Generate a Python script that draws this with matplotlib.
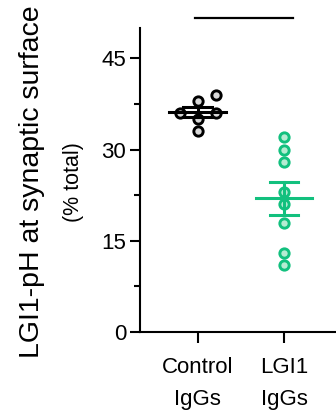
import numpy as np
import matplotlib
matplotlib.use("Agg")
import matplotlib.pyplot as plt

plt.rcParams['font.family'] = ['Liberation Sans', 'DejaVu Sans']

# datos
grupos = ["Control\nIgGs", "LGI1\nIgGs"]
control = [39, 38, 36, 36, 35, 33]
control_jitter = [0.21, 0.0, -0.21, 0.21, 0.0, 0.0]
lgi1 = [32, 30, 28, 23, 21, 18, 13, 11]
lgi1_jitter = [0, 0, 0, 0, 0, 0, 0, 0]

colores_borde = ["black", "#12c07e"]
colores_relleno = ["#d9d9d9", "#b5ecd2"]

fig = plt.figure(figsize=(3.36, 4.2), dpi=100)
ax = fig.add_axes([140/336, 1 - 332/420, 1 - 140/336, (332 - 28)/420])

for i, (vals, jit) in enumerate([(control, control_jitter), (lgi1, lgi1_jitter)]):
    vals = np.array(vals, dtype=float)
    x = i + np.array(jit)
    ax.plot(x, vals, 'o', ms=6.7, mew=2.1, mec=colores_borde[i],
            mfc=colores_relleno[i], clip_on=False, zorder=2)
    media = vals.mean()
    sem = vals.std(ddof=1) / np.sqrt(len(vals))
    ax.plot([i - 0.33, i + 0.33], [media, media], color=colores_borde[i], lw=2.2, zorder=3)
    ax.plot([i, i], [media - sem, media + sem], color=colores_borde[i], lw=2.2, zorder=3)
    for s in (media - sem, media + sem):
        ax.plot([i - 0.165, i + 0.165], [s, s], color=colores_borde[i], lw=2.2, zorder=3)

# linea de significancia
ax.plot([-0.03, 1.1], [51.7, 51.7], color="black", lw=1.6, clip_on=False)

ax.set_xlim(-0.669, 1.603)
ax.set_ylim(0, 50)
ax.set_yticks([0, 15, 30, 45])
ax.set_yticks([7.5, 22.5, 37.5], minor=True)
ax.set_xticks([0, 1])
ax.set_xticklabels(grupos, fontsize=16, linespacing=1.7)
ax.tick_params(axis='y', labelsize=16, width=1.5, length=7, pad=3)
ax.tick_params(axis='y', which='minor', width=1.5, length=4.5)
ax.tick_params(axis='x', width=1.5, length=8, pad=10)
for lado in ['top', 'right']:
    ax.spines[lado].set_visible(False)
for lado in ['left', 'bottom']:
    ax.spines[lado].set_linewidth(1.5)

fig.text(32/336, 1 - 182/420, "LGI1-pH at synaptic surface", rotation=90,
         fontsize=20.5, ha='center', va='center')
fig.text(74/336, 1 - 182/420, "(% total)", rotation=90,
         fontsize=15.5, ha='center', va='center')

fig.savefig("out.png", dpi=100)
